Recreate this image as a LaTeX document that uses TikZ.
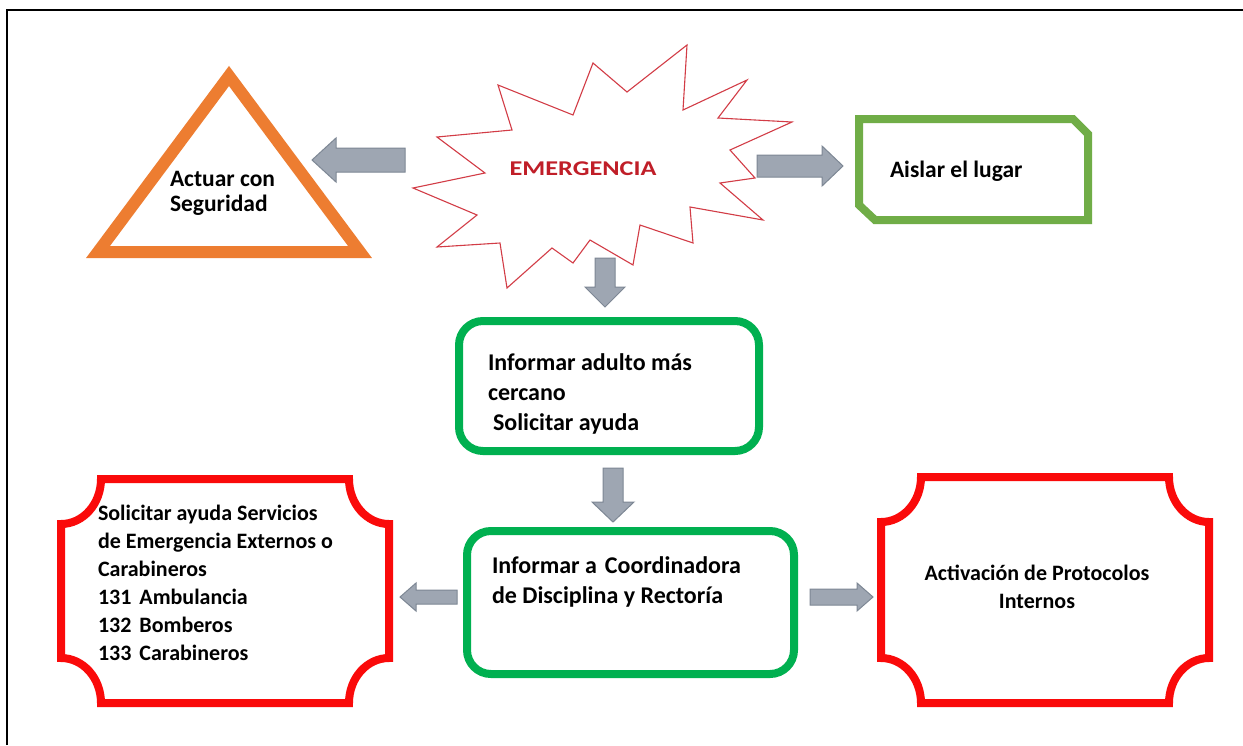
\documentclass[tikz,border=0pt]{standalone}
\usepackage{fontspec}
\setmainfont{Carlito}
\usepackage{graphicx}
\definecolor{orangeT}{RGB}{237,125,49}
\definecolor{greenA}{RGB}{112,173,71}
\definecolor{greenB}{RGB}{0,176,80}
\definecolor{redB}{RGB}{250,10,10}
\definecolor{starred}{RGB}{210,60,70}
\definecolor{emred}{RGB}{192,30,40}
\definecolor{arrowfill}{RGB}{158,166,178}
\definecolor{arrowdraw}{RGB}{125,135,148}
\begin{document}
\begin{tikzpicture}[x=1pt,y=-1pt,
  txt/.style={inner sep=0pt, outer sep=0pt, text=black},
  blockarrow/.style={fill=arrowfill, draw=arrowdraw, line width=1pt, line join=miter},
  redbox/.style={draw=redB, line width=8pt, fill=white, line join=miter},
  greenbox/.style={draw=greenB, line width=8pt, rounded corners=24pt, fill=white},
  aislarbox/.style={draw=greenA, line width=8pt, fill=white, line join=miter},
  tribox/.style={draw=orangeT, line width=12pt, fill=white, line join=miter},
  starbox/.style={draw=starred, line width=1.1pt, fill=white, line join=miter}]
\useasboundingbox (0,0) rectangle (1243,745);
\fill[white] (0,0) rectangle (1243,745);
\draw[line width=2pt] (7,745) -- (7,10) -- (1243,10);

% shapes
\draw[tribox] (229,76) -- (360,252) -- (98,252) -- cycle;
\draw[starbox] (593,63) -- (627,92) -- (687,45) -- (683,110) -- (747,80) -- (718,118) -- (792,122) -- (730,150) -- (755,178) -- (720,183) -- (763,220) -- (690,207) -- (693,243) -- (640,225) -- (633,265) -- (590,240) -- (573,263) -- (552,248) -- (507,288) -- (500,243) -- (437,247) -- (477,215) -- (413,188) -- (485,173) -- (437,137) -- (512,130) -- (498,85) -- (573,115) -- cycle;
\draw[aislarbox] (859,119) -- (1073,119) -- (1088,134) -- (1088,220) -- (875,220) -- (859,205) -- cycle;
\draw[greenbox] (459,321) rectangle (759,451);
\draw[greenbox] (467,531) rectangle (794,674);
\draw[redbox] (101,479) -- (349,479) .. controls (349,504) and (367,524) .. (389,524) -- (389,658) .. controls (367,658) and (349,678) .. (349,703) -- (101,703) .. controls (101,678) and (83,658) .. (61,658) -- (61,524) .. controls (83,524) and (101,504) .. (101,479) -- cycle;
\draw[redbox] (921,477) -- (1169,477) .. controls (1169,502) and (1187,522) .. (1209,522) -- (1209,658) .. controls (1187,658) and (1169,678) .. (1169,703) -- (921,703) .. controls (921,678) and (903,658) .. (881,658) -- (881,522) .. controls (903,522) and (921,502) .. (921,477) -- cycle;

% block arrows
\draw[blockarrow] (405,148) -- (336,148) -- (336,138) -- (312,160) -- (336,182) -- (336,172) -- (405,172) -- cycle;
\draw[blockarrow] (757,155) -- (822,155) -- (822,146) -- (843,166) -- (822,186) -- (822,177) -- (757,177) -- cycle;
\draw[blockarrow] (595,258) -- (615,258) -- (615,287) -- (625,287) -- (605,307) -- (585,287) -- (595,287) -- cycle;
\draw[blockarrow] (603,468) -- (623,468) -- (623,502) -- (634,502) -- (613,522) -- (592,502) -- (603,502) -- cycle;
\draw[blockarrow] (457,590) -- (416,590) -- (416,583) -- (400,597) -- (416,611) -- (416,604) -- (457,604) -- cycle;
\draw[blockarrow] (810,589) -- (857,589) -- (857,583) -- (873,597) -- (857,611) -- (857,605) -- (810,605) -- cycle;

% texts
\node[txt, text=emred, anchor=base, font=\fontsize{21}{25}\selectfont\bfseries] (emerg) at (583,175) {\scalebox{1.25}[1]{EMERGENCIA}};
\node[txt, anchor=base west, font=\fontsize{23.5}{25}\selectfont\bfseries] (actuar) at (170,186) {\begin{tabular}[t]{@{}l@{}}Actuar con\\Seguridad\end{tabular}};
\node[txt, anchor=base west, font=\fontsize{23.5}{28}\selectfont\bfseries] (aislar) at (890,177) {Aislar el lugar};
\node[txt, anchor=base west, font=\fontsize{24}{30}\selectfont\bfseries] (informar) at (488,370) {\begin{tabular}[t]{@{}l@{}}Informar adulto más\\cercano\\\hspace*{5pt}Solicitar ayuda\end{tabular}};
\node[txt, anchor=base west, font=\fontsize{24}{30}\selectfont\bfseries] (coord) at (492,573) {\begin{tabular}[t]{@{}l@{}}Informar a\hspace{8pt}Coordinadora\\de Disciplina y Rectoría\end{tabular}};
\node[txt, anchor=base west, font=\fontsize{22}{28}\selectfont\bfseries] (servicios) at (98,520) {\begin{tabular}[t]{@{}l@{}}Solicitar ayuda Servicios\\de Emergencia Externos o\\Carabineros\\131\hspace{8pt}Ambulancia\\132\hspace{8pt}Bomberos\\133\hspace{8pt}Carabineros\end{tabular}};
\node[txt, anchor=base, font=\fontsize{22}{28}\selectfont\bfseries] (protocolos) at (1037,580) {\begin{tabular}[t]{@{}c@{}}Activación de Protocolos\\Internos\end{tabular}};
\end{tikzpicture}
\end{document}
